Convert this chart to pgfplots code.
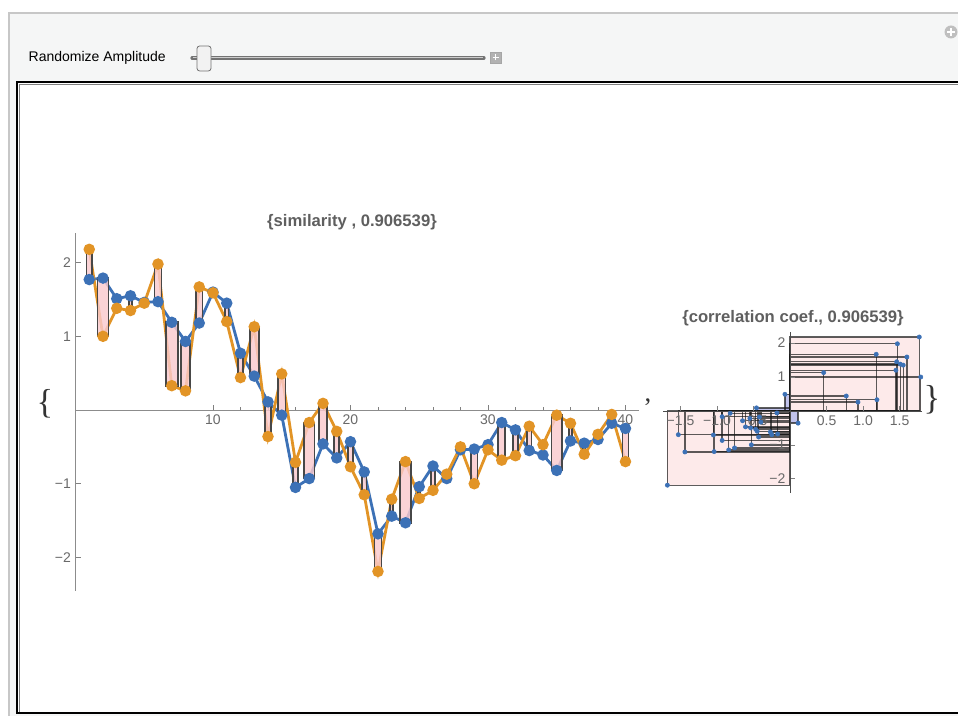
\documentclass[border=0pt]{standalone}
\usepackage{fontspec}
\setmainfont{Liberation Sans}
\newfontfamily\bracefont{Liberation Serif}
\usepackage{pgfplots}
\usepackage{pgfplotstable}
\pgfplotsset{compat=1.18}

\definecolor{mblue}{RGB}{60,113,182}
\definecolor{morange}{RGB}{226,148,38}
\definecolor{boxpink}{RGB}{250,202,206}
\definecolor{lightpink}{RGB}{253,234,234}
\definecolor{negblue}{RGB}{168,170,228}
\definecolor{panelgray}{RGB}{245,246,246}
\definecolor{ticklab}{RGB}{105,105,105}
\definecolor{titlegray}{RGB}{95,95,95}

% two random series: blue (b) and orange (o), 40 points
\pgfplotstableread{
i b o
1 1.77 2.18
2 1.79 1.00
3 1.51 1.38
4 1.55 1.35
5 1.46 1.45
6 1.47 1.98
7 1.19 0.33
8 0.93 0.26
9 1.18 1.67
10 1.60 1.59
11 1.45 1.20
12 0.77 0.44
13 0.46 1.13
14 0.11 -0.36
15 -0.07 0.49
16 -1.05 -0.71
17 -0.93 -0.17
18 -0.46 0.09
19 -0.65 -0.29
20 -0.43 -0.77
21 -0.84 -1.15
22 -1.68 -2.19
23 -1.44 -1.21
24 -1.53 -0.70
25 -1.04 -1.20
26 -0.76 -1.09
27 -0.93 -0.87
28 -0.54 -0.50
29 -0.53 -1.00
30 -0.47 -0.54
31 -0.17 -0.68
32 -0.27 -0.62
33 -0.55 -0.22
34 -0.61 -0.47
35 -0.82 -0.07
36 -0.42 -0.18
37 -0.45 -0.60
38 -0.40 -0.33
39 -0.18 -0.06
40 -0.25 -0.70
}\simdata

\pgfplotsset{
  mmaaxis/.style={
    scale only axis, clip=false,
    axis lines=middle,
    axis line style={-, draw=black!45, line width=0.6pt},
    tick align=inside,
    major tick length=4pt, minor tick length=2.2pt,
    tick style={black!50, line width=0.5pt},
    tick label style={font=\fontsize{10.5}{12}\selectfont, text=ticklab},
    /pgf/number format/assume math mode=true,
  },
  sqbox/.style={draw=black!72, line width=1.3pt, fill=boxpink, fill opacity=0.82},
  posfill/.style={draw=none, fill=lightpink},
  negfill/.style={draw=none, fill=negblue, fill opacity=0.7},
  edge/.style={draw=black!90, draw opacity=0.7, line width=1pt, fill=none},
}

\begin{document}
\begin{tikzpicture}[x=0.75pt, y=0.75pt]
\useasboundingbox (0,0) rectangle (958,716);
\fill[white] (0,0) rectangle (958,716);

% Manipulate panel
\fill[panelgray] (9,0) rectangle (958,703);
\draw[black!22, line width=0.8pt] (9,0) -- (9,703) -- (958,703);
\node[anchor=west, font=\fontsize{10.5}{12}\selectfont] at (24,658) {Randomize Amplitude};
\draw[line width=2.4pt, black!55, line cap=round] (192,658) -- (484,658);
\draw[line width=0.7pt, black!20] (193,658.6) -- (483,658.6);
\draw[black!55, fill=black!5, rounded corners=2pt, line width=0.6pt] (197,645) rectangle (211,670);
\draw[black!35, fill=black!30] (490,653) rectangle (501,664);
\draw[white, line width=0.8pt] (492.5,658.5) -- (498.5,658.5) (495.5,655.5) -- (495.5,661.5);
\fill[black!25] (951,684) circle (6.5);
\draw[white, line width=1.2pt] (947,684) -- (955,684) (951,680) -- (951,688);

% output pane
\fill[white] (17,3) rectangle (958,634);
\draw[black!50, line width=0.6pt] (19.5,3) -- (19.5,631.5) -- (958,631.5);
\draw[black, line width=1.4pt] (17,3) rectangle (960,634);

% list braces and comma
\node[font=\bracefont\fontsize{26}{30}\selectfont, text=black!80] at (45,312) {\{};
\node[font=\bracefont\fontsize{26}{30}\selectfont, text=black!80] at (932,316) {\}};
\node[font=\bracefont\fontsize{20}{24}\selectfont, text=black!80] at (648,314) {,};

% titles
\node[font=\bfseries\fontsize{12.5}{14}\selectfont, text=titlegray] at (352,494) {\{similarity , 0.906539\}};
\node[font=\bfseries\fontsize{12.5}{14}\selectfont, text=titlegray] at (793,398) {\{correlation coef., 0.906539\}};

% anchor points of the two axes (pixel grid, y up)
\coordinate (mainSW) at (75.5,125.4);
\coordinate (corrSW) at (663,223);

% series with squared-difference boxes
\begin{axis}[mmaaxis,
  at={(mainSW)}, anchor=south west,
  width=422.8pt, height=268.1pt,
  xmin=0, xmax=41, ymin=-2.45, ymax=2.4,
  xtick={10,20,30,40}, minor x tick num=4,
  ytick={-2,-1,1,2}, yticklabels={−2,−1,1,2}, minor y tick num=4,
]
\addplot[mblue, line width=2.1pt, mark=*, mark size=3.2pt] table[x=i, y=b] {\simdata};
\addplot[morange, line width=2.1pt, mark=*, mark size=3.2pt] table[x=i, y=o] {\simdata};
\pgfplotsforeachungrouped \k in {0,...,39}{%
  \pgfplotstablegetelem{\k}{i}\of\simdata \let\xx\pgfplotsretval
  \pgfplotstablegetelem{\k}{b}\of\simdata \let\yb\pgfplotsretval
  \pgfplotstablegetelem{\k}{o}\of\simdata \let\yo\pgfplotsretval
  \pgfmathsetmacro\hw{abs((\yb)-(\yo))/2}
  \pgfmathsetmacro\xl{\xx-\hw}
  \pgfmathsetmacro\xr{\xx+\hw}
  \edef\tmp{\noexpand\addplot[sqbox] coordinates {(\xl,\yb) (\xr,\yb) (\xr,\yo) (\xl,\yo)} -- cycle;}
  \tmp
}
\end{axis}

% product rectangles for the correlation
\begin{axis}[mmaaxis,
  at={(corrSW)}, anchor=south west,
  width=194.4pt, height=120.8pt,
  xmin=-1.74, xmax=1.81, ymin=-2.42, ymax=2.33,
  axis on top,
  axis line style={-, draw=black!70, line width=0.6pt},
  xtick={-1.5,-1,-0.5,0.5,1,1.5},
  xticklabels={−1.5,−1.0,−0.5,0.5,1.0,1.5}, minor x tick num=4,
  ytick={-2,-1,1,2}, yticklabels={−2,−1,1,2}, minor y tick num=4,
]
\pgfplotsforeachungrouped \k in {0,...,39}{%
  \pgfplotstablegetelem{\k}{b}\of\simdata \let\yb\pgfplotsretval
  \pgfplotstablegetelem{\k}{o}\of\simdata \let\yo\pgfplotsretval
  \pgfmathparse{((\yb)*(\yo)>0) ? "posfill" : "negfill"}\let\bs\pgfmathresult
  \edef\tmp{\noexpand\addplot[\bs] coordinates {(0,0) (\yb,0) (\yb,\yo) (0,\yo)} -- cycle;}
  \tmp
}
\pgfplotsforeachungrouped \k in {0,...,39}{%
  \pgfplotstablegetelem{\k}{b}\of\simdata \let\yb\pgfplotsretval
  \pgfplotstablegetelem{\k}{o}\of\simdata \let\yo\pgfplotsretval
  \edef\tmp{\noexpand\addplot[edge] coordinates {(0,0) (\yb,0) (\yb,\yo) (0,\yo)} -- cycle;}
  \tmp
}
\addplot[only marks, mark=*, mark size=1.6pt, mblue] table[x=b, y=o] {\simdata};
\end{axis}
\end{tikzpicture}
\end{document}
